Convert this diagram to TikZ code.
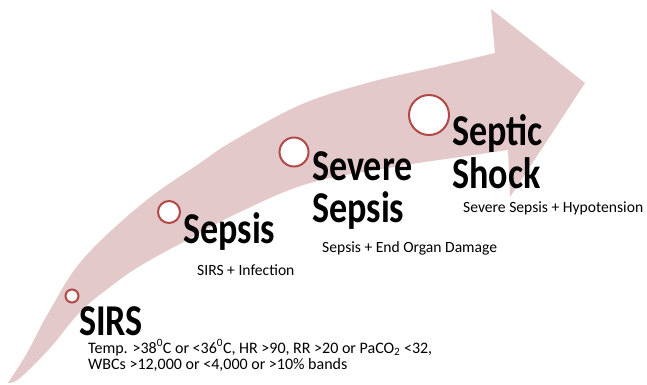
\documentclass[tikz,border=0pt]{standalone}
\usepackage{fontspec}
\setmainfont{Carlito}
\definecolor{band}{RGB}{228,201,203}
\definecolor{ring}{RGB}{178,72,72}
\tikzset{
  ringnode/.style={circle, draw=ring, line width=2pt, fill=white, inner sep=0pt},
  titletext/.style={anchor=base west, inner sep=0pt, text depth=0pt, font=\bfseries\fontsize{44}{44}\selectfont},
  desctext/.style={anchor=base west, inner sep=0pt, font=\fontsize{15.6}{15.6}\selectfont}
}
\newcommand{\sq}[1]{\scalebox{0.82}[1]{#1}}
\begin{document}
\begin{tikzpicture}[x=1pt,y=-1pt]
\useasboundingbox (0,0) rectangle (647,384);
% arrow
\fill[band] plot[smooth, tension=0.6] coordinates {(8,383) (27,353) (50,310) (83,259) (143,203) (200,163) (233,141) (300,105) (367,83) (440,66) (495,53)}
  -- (491,9) -- (585,83) -- (510,197) -- (508,150)
  -- plot[smooth, tension=0.6] coordinates {(508,150) (460,157) (400,166) (310,183) (240,212) (187,240) (140,266) (110,287) (80,312) (50,348) (20,378) (8,383)} -- cycle;
% circles
\node[ringnode, minimum size=13pt] (c1) at (72,296) {};
\node[ringnode, minimum size=22pt] (c2) at (169,212) {};
\node[ringnode, minimum size=29pt] (c3) at (294,152) {};
\node[ringnode, minimum size=40pt] (c4) at (429,115) {};
% titles
\node[titletext] (t1) at (79,335) {\sq{SIRS}};
\node[titletext] (t2) at (183,243) {\sq{Sepsis}};
\node[titletext] (t3a) at (312,180) {\sq{Severe}};
\node[titletext] (t3b) at (312,222) {\sq{Sepsis}};
\node[titletext] (t4a) at (452,145) {\sq{Septic}};
\node[titletext] (t4b) at (452,188) {\sq{Shock}};
% descriptions
\node[desctext, font=\fontsize{16}{16}\selectfont] (d1a) at (88,353) {Temp. >38\textsuperscript{0}C or <36\textsuperscript{0}C, HR >90, RR >20 or PaCO\textsubscript{2} <32,};
\node[desctext, font=\fontsize{16}{16}\selectfont] (d1b) at (88,369) {WBCs >12,000 or <4,000 or >10\% bands};
\node[desctext] (d2) at (197,275) {SIRS + Infection};
\node[desctext] (d3) at (322,252) {Sepsis + End Organ Damage};
\node[desctext] (d4) at (463,212) {Severe Sepsis + Hypotension};
\end{tikzpicture}
\end{document}
